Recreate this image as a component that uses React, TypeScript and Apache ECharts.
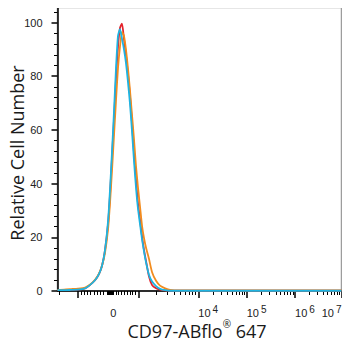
import React, { useEffect, useRef } from "react";
import * as echarts from "echarts";

// Histogram bins on the display (channel) scale, 0..1000 across the axis
const channels = [
  0, 23, 48, 72, 97, 114, 132, 146, 157, 167, 178, 185, 192, 199, 206, 213, 220, 227, 234, 241,
  248, 255, 262, 269, 276, 283, 291, 298, 305, 312, 322, 333, 347, 361, 379, 396, 431, 500, 600,
  700, 800, 900, 1000,
];

const countsRed = [
  0.3, 0.3, 0.4, 0.5, 1.0, 2.2, 4.0, 6.3, 9.5, 15, 25, 36, 50, 64, 79, 91, 98, 99.6, 94, 88,
  81, 73, 63, 52, 42, 33, 26, 20, 15, 11, 5.5, 2.2, 1.0, 0.5, 0.2, 0.1, 0.1, 0.1, 0.1,
  0.1, 0.1, 0.1, 0.1,
];

const countsOrange = [
  0.4, 0.5, 0.7, 0.9, 1.3, 2.3, 4.2, 6.5, 9.5, 14, 23, 33, 45, 58, 71, 83, 91, 96.5, 95, 90,
  83, 75, 66, 57, 47, 39, 31, 24, 19.5, 16, 12, 7, 3.8, 2.0, 1.0, 0.4, 0.2, 0.2, 0.2,
  0.2, 0.2, 0.2, 0.2,
];

const countsCyan = [
  0.3, 0.3, 0.4, 0.5, 1.0, 2.2, 4.0, 6.3, 9.5, 15, 26, 38, 52, 67, 83, 95, 97.5, 94, 90, 85,
  78, 70, 60, 49, 39, 31, 24.5, 19, 14.5, 10.5, 6, 3.5, 1.8, 0.8, 0.3, 0.1, 0.1, 0.1, 0.1,
  0.1, 0.1, 0.1, 0.1,
];

// Axis ticks and labels (fluorescence values)
const yTicks = [0, 20, 40, 60, 80, 100];
const yMinorTicks = [4, 8, 12, 16, 24, 28, 32, 36, 44, 48, 52, 56, 64, 68, 72, 76, 84, 88, 92, 96, 104];
const xMajorTicks = [-1000, 1000, 1e4, 1e5, 1e6, 1e7];
const xLabelValues = [0, 1e4, 1e5, 1e6];
const xEndLabelValue = 1e7;
const minorMantissas = [2, 3, 4, 5, 6, 7, 8, 9];

// Biexponential display scale: value -> channel, anchored at each decade
const scaleAnchors: [number, number][] = [
  [-1e4, -140.1],
  [-1e3, 71.1],
  [0, 185.6],
  [1e3, 284.5],
  [1e4, 495.8],
  [1e5, 666.2],
  [1e6, 836.3],
  [1e7, 1000],
];

function toChannel(v: number): number {
  if (Math.abs(v) <= 1e3) {
    const [a0, c0] = v < 0 ? scaleAnchors[1] : scaleAnchors[2];
    const [a1, c1] = v < 0 ? scaleAnchors[2] : scaleAnchors[3];
    return c0 + ((v - a0) / (a1 - a0)) * (c1 - c0);
  }
  const sign = Math.sign(v);
  const lv = Math.log10(Math.abs(v));
  const side = scaleAnchors.filter(([a]) => Math.sign(a) === sign);
  const sorted = side.slice().sort((p, q) => Math.abs(p[0]) - Math.abs(q[0]));
  for (let i = 0; i < sorted.length - 1; i++) {
    const l0 = Math.log10(Math.abs(sorted[i][0]));
    const l1 = Math.log10(Math.abs(sorted[i + 1][0]));
    if (lv >= l0 && lv <= l1) {
      return sorted[i][1] + ((lv - l0) / (l1 - l0)) * (sorted[i + 1][1] - sorted[i][1]);
    }
  }
  return sign > 0 ? 1000 : 0;
}

function minorTickValues(): number[] {
  const out: number[] = [];
  for (let k = 1; k <= 6; k++) {
    for (const m of minorMantissas) {
      out.push(m * Math.pow(10, k));
      if (k <= 3) out.push(-m * Math.pow(10, k));
    }
  }
  for (let k = 1; k <= 2; k++) {
    out.push(Math.pow(10, k));
    out.push(-Math.pow(10, k));
  }
  out.push(0);
  return out.map(toChannel).filter((c) => c >= 0 && c <= 1000);
}

function labelText(v: number): string {
  if (v === 0) return "{b|0}";
  const exp = Math.round(Math.log10(v));
  return `{b|10}{s|${exp}}`;
}

const labelRich = {
  b: { fontSize: 11, lineHeight: 14, verticalAlign: "bottom" as const, color: "#222", fontFamily: "Liberation Sans" },
  s: {
    fontSize: 10,
    lineHeight: 10,
    verticalAlign: "top" as const,
    color: "#222",
    fontFamily: "Liberation Sans",
    padding: [0, 0, 16, 2],
  },
};

export default function App() {
  const ref = useRef<HTMLDivElement>(null);

  useEffect(() => {
    if (!ref.current) return;
    const chart = echarts.init(ref.current, undefined, { renderer: "svg" });

    const labelChannels = xLabelValues.map(toChannel);
    const nearestLabel = (c: number) => {
      let best = 0;
      labelChannels.forEach((lc, i) => {
        if (Math.abs(lc - c) < Math.abs(labelChannels[best] - c)) best = i;
      });
      return xLabelValues[best];
    };

    const mkSeries = (name: string, data: number[], color: string) => ({
      name,
      type: "line" as const,
      data: channels.map((c, i) => [c, data[i]]),
      showSymbol: false,
      smooth: 0.2,
      lineStyle: { color, width: 1.8 },
      itemStyle: { color },
      xAxisIndex: 0,
      yAxisIndex: 0,
    });

    const hiddenAxisBase = {
      type: "value" as const,
      min: 0,
      max: 1000,
      position: "bottom" as const,
      axisLine: { show: false },
      splitLine: { show: false },
    };

    chart.setOption({
      animation: false,
      grid: {
        left: 57.5,
        right: 8.5,
        top: 7.5,
        bottom: 59,
        show: true,
        borderColor: "#9d9d9d",
        borderWidth: 1.5,
      },
      xAxis: [
        {
          type: "value",
          min: 0,
          max: 1000,
          position: "bottom",
          axisLine: { show: true, lineStyle: { color: "#000", width: 1.5 } },
          axisTick: {
            show: true,
            customValues: xMajorTicks.map(toChannel),
            length: 7,
            lineStyle: { color: "#000", width: 1.5 },
          },
          axisLabel: {
            customValues: labelChannels,
            formatter: (val: number) => labelText(nearestLabel(val)),
            align: "left",
            margin: 13,
            rich: labelRich,
          },
          splitLine: { show: false },
        },
        {
          ...hiddenAxisBase,
          axisTick: {
            show: true,
            customValues: minorTickValues(),
            length: 4,
            lineStyle: { color: "#000", width: 1 },
          },
          axisLabel: { show: false },
        },
        {
          ...hiddenAxisBase,
          axisTick: { show: false },
          axisLabel: {
            customValues: [toChannel(xEndLabelValue)],
            formatter: () => labelText(xEndLabelValue),
            align: "right",
            margin: 13,
            rich: labelRich,
          },
        },
      ],
      yAxis: [
        {
          type: "value",
          min: 0,
          max: 105.6,
          position: "left",
          axisLine: { show: true, lineStyle: { color: "#000", width: 1.5 } },
          axisTick: {
            show: true,
            customValues: yTicks,
            length: 6,
            lineStyle: { color: "#000", width: 1.5 },
          },
          axisLabel: {
            customValues: yTicks,
            fontSize: 11,
            color: "#222",
            fontFamily: "Liberation Sans",
            margin: 15,
          },
          splitLine: { show: false },
        },
        {
          type: "value",
          min: 0,
          max: 105.6,
          position: "left",
          axisLine: { show: false },
          axisTick: {
            show: true,
            customValues: yMinorTicks,
            length: 3.5,
            lineStyle: { color: "#000", width: 1 },
          },
          axisLabel: { show: false },
          splitLine: { show: false },
        },
      ],
      series: [
        mkSeries("red", countsRed, "#e3232c"),
        mkSeries("orange", countsOrange, "#f28c1e"),
        mkSeries("cyan", countsCyan, "#1db4e2"),
      ],
      graphic: [
        {
          type: "text",
          x: 17,
          y: 153,
          rotation: Math.PI / 2,
          style: {
            text: "Relative Cell Number",
            fontSize: 18,
            fontFamily: "Open Sans",
            fill: "#1a1a1a",
            align: "center",
            verticalAlign: "middle",
          },
        },
        {
          type: "text",
          x: 197,
          y: 331,
          style: {
            text: "{a|CD97-ABflo}{r|®}{a| 647}",
            fill: "#1a1a1a",
            align: "center",
            verticalAlign: "middle",
            rich: {
              a: { fontSize: 18, lineHeight: 24, fontFamily: "Open Sans", fill: "#1a1a1a" },
              r: { fontSize: 10, lineHeight: 16, verticalAlign: "top", fontFamily: "Open Sans", fill: "#1a1a1a" },
            },
          },
        },
      ],
    });

    return () => chart.dispose();
  }, []);

  return <div ref={ref} style={{ width: 350, height: 350, margin: -8 }} />;
}
